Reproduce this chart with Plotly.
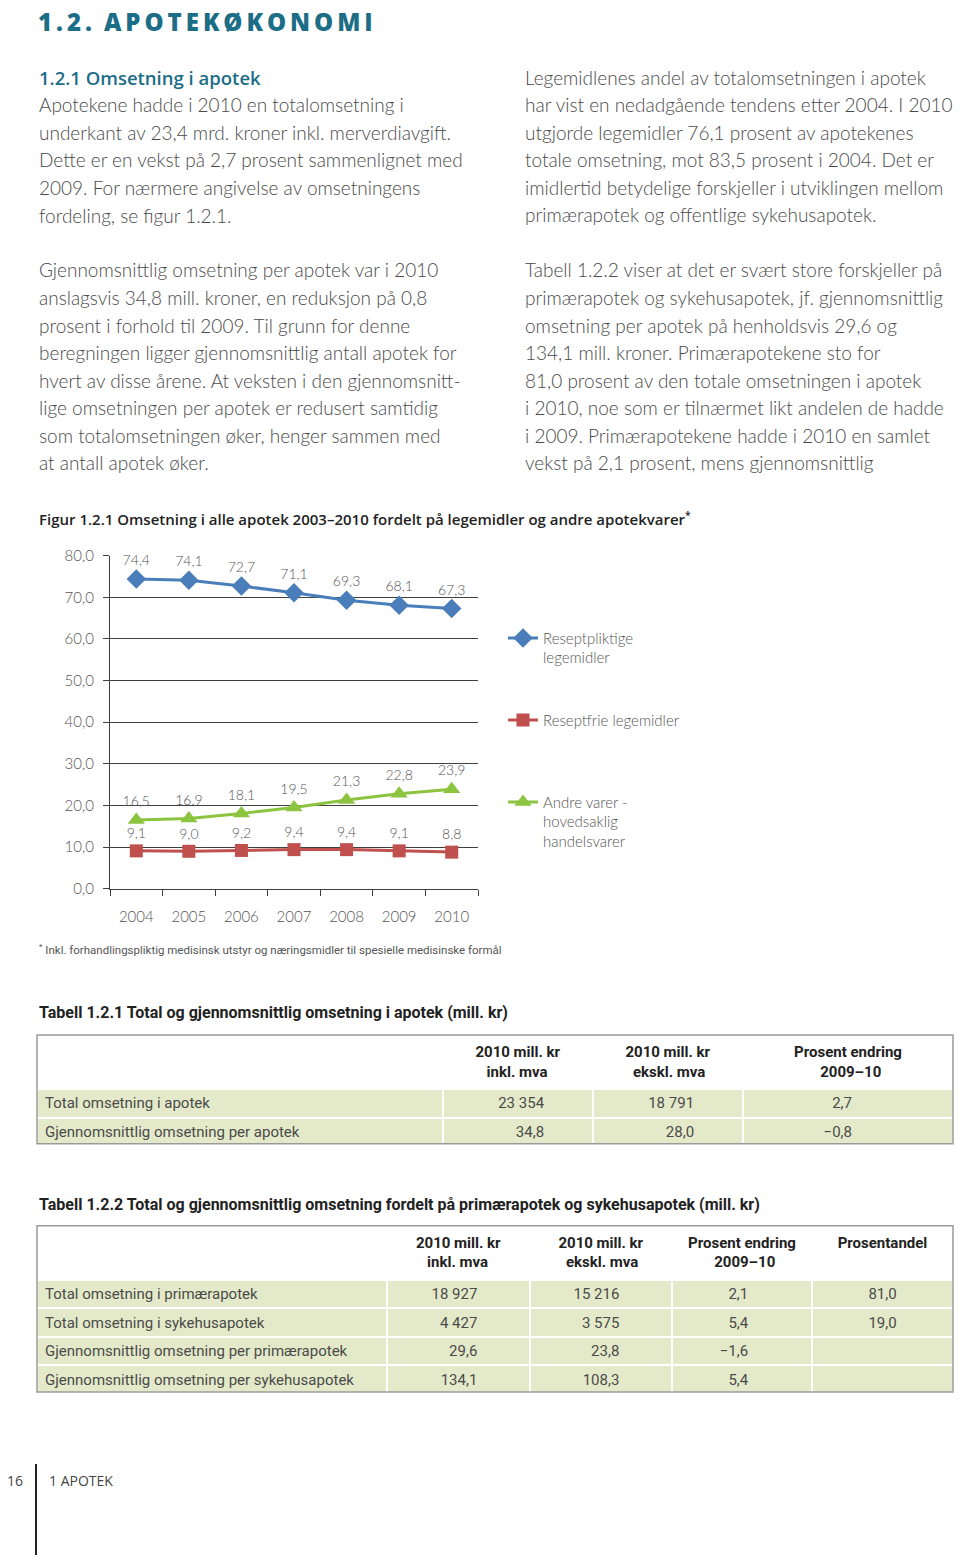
import plotly.graph_objects as go

W, H = 960, 1563

def py(p):
    return 1 - p / H

def px(p):
    return p / W

NB = "\u00a0"

# ---------------- data ----------------
years = ["2004", "2005", "2006", "2007", "2008", "2009", "2010"]
reseptpliktige = [74.4, 74.1, 72.7, 71.1, 69.3, 68.1, 67.3]
reseptfrie = [9.1, 9.0, 9.2, 9.4, 9.4, 9.1, 8.8]
andre_varer = [16.5, 16.9, 18.1, 19.5, 21.3, 22.8, 23.9]
series_names = ["Reseptpliktige<br>legemidler", "Reseptfrie legemidler<br> ",
                "Andre varer -<br>hovedsaklig<br>handelsvarer"]
y_ticks = [0, 10, 20, 30, 40, 50, 60, 70, 80]

tab1_header = ["", "<b>2010 mill. kr<br>" + NB * 3 + "inkl. mva</b>",
               "<b>2010 mill. kr<br>" + NB * 2 + "ekskl. mva</b>",
               "<b>Prosent endring<br>" + NB * 7 + "2009–10</b>"]
tab1_rows = ["Total omsetning i apotek", "Gjennomsnittlig omsetning per apotek"]
tab1_inkl = ["23\u00a0354", "34,8"]
tab1_ekskl = ["18\u00a0791", "28,0"]
tab1_endring = ["2,7", "−0,8"]

tab2_header = ["", "<b>2010 mill. kr<br>" + NB * 3 + "inkl. mva</b>",
               "<b>2010 mill. kr<br>" + NB * 2 + "ekskl. mva</b>",
               "<b>Prosent endring<br>" + NB * 7 + "2009–10</b>", "<b>Prosentandel</b>"]
tab2_rows = ["Total omsetning i primærapotek", "Total omsetning i sykehusapotek",
             "Gjennomsnittlig omsetning per primærapotek", "Gjennomsnittlig omsetning per sykehusapotek"]
tab2_inkl = ["18\u00a0927", "4\u00a0427", "29,6", "134,1"]
tab2_ekskl = ["15\u00a0216", "3\u00a0575", "23,8", "108,3"]
tab2_endring = ["2,1", "5,4", "−1,6", "5,4"]
tab2_andel = ["81,0", "19,0", "", ""]

left_para1 = ["Apotekene hadde i 2010 en totalomsetning i",
              "underkant av 23,4 mrd. kroner inkl. merverdiavgift.",
              "Dette er en vekst på 2,7 prosent sammenlignet med",
              "2009. For nærmere angivelse av omsetningens",
              "fordeling, se figur 1.2.1."]
left_para2 = ["Gjennomsnittlig omsetning per apotek var i 2010",
              "anslagsvis 34,8 mill. kroner, en reduksjon på 0,8",
              "prosent i forhold til 2009. Til grunn for denne",
              "beregningen ligger gjennomsnittlig antall apotek for",
              "hvert av disse årene. At veksten i den gjennomsnitt-",
              "lige omsetningen per apotek er redusert samtidig",
              "som totalomsetningen øker, henger sammen med",
              "at antall apotek øker."]
right_para1 = ["Legemidlenes andel av totalomsetningen i apotek",
               "har vist en nedadgående tendens etter 2004. I 2010",
               "utgjorde legemidler 76,1 prosent av apotekenes",
               "totale omsetning, mot 83,5 prosent i 2004. Det er",
               "imidlertid betydelige forskjeller i utviklingen mellom",
               "primærapotek og offentlige sykehusapotek."]
right_para2 = ["Tabell 1.2.2 viser at det er svært store forskjeller på",
               "primærapotek og sykehusapotek, jf. gjennomsnittlig",
               "omsetning per apotek på henholdsvis 29,6 og",
               "134,1 mill. kroner. Primærapotekene sto for",
               "81,0 prosent av den totale omsetningen i apotek",
               "i 2010, noe som er tilnærmet likt andelen de hadde",
               "i 2009. Primærapotekene hadde i 2010 en samlet",
               "vekst på 2,1 prosent, mens gjennomsnittlig"]

# ---------------- styles ----------------
TEAL = "#1c6d86"
TEXT = "#4a4a4a"
BODY_FONT = "Lato"
NARROW = "Liberation Sans Narrow, Roboto, sans-serif"
BLUE, RED, GREEN = "#4a7ebb", "#c0504d", "#8cc43f"
GRID = "#404040"
FILL = "#e4eac9"

fig = go.Figure()

for name, vals, col, sym, sz in [
    (series_names[0], reseptpliktige, BLUE, "diamond", 15),
    (series_names[1], reseptfrie, RED, "square", 13),
    (series_names[2], andre_varer, GREEN, "triangle-up", 15),
]:
    fig.add_trace(go.Scatter(
        x=years, y=vals, name=name, legendgroup=name,
        mode="lines+markers+text",
        line=dict(color=col, width=3),
        marker=dict(symbol=sym, size=sz, color=col),
        texttemplate="%{y:.1f}", textposition="top center",
        textfont=dict(family=BODY_FONT, size=14, color="#555555", weight=300),
        cliponaxis=False,
    ))

fig.update_xaxes(
    domain=[px(110), px(478)], type="category", range=[-0.5, 6.5],
    showline=True, linecolor=GRID, linewidth=1,
    ticks="outside", tickson="boundaries", ticklen=6, tickcolor=GRID,
    tickfont=dict(family=BODY_FONT, size=15, color="#555555", weight=300),
    ticklabelstandoff=14, showgrid=False, zeroline=False, fixedrange=True,
)
fig.update_yaxes(
    domain=[py(889), py(552)], range=[0, 80],
    tickvals=y_ticks, tickformat=".1f",
    showline=True, linecolor=GRID, linewidth=1,
    showgrid=True, gridcolor=GRID, gridwidth=1,
    ticks="outside", ticklen=6, tickcolor=GRID,
    tickfont=dict(family=BODY_FONT, size=15, color="#555555", weight=300),
    ticklabelstandoff=6, zeroline=False, fixedrange=True,
)

# ---------------- tables ----------------
fig.add_trace(go.Table(
    domain=dict(x=[px(37), px(953)], y=[py(1147), py(1037)]),
    columnwidth=[406, 150, 150, 210],
    header=dict(values=tab1_header, height=53, fill_color="white",
                line=dict(color="white", width=1),
                align=["left", "center", "center", "center"],
                font=dict(family=NARROW, size=15, color="#222222")),
    cells=dict(values=[tab1_rows, tab1_inkl, tab1_ekskl, tab1_endring], height=29,
               fill_color=FILL, line=dict(color="white", width=2),
               align=["left", "right", "right", "right"],
               suffix=["", NB * 11, NB * 11, NB * 25],
               font=dict(family=NARROW, size=15, color="#4a4a4a")),
))
fig.add_trace(go.Table(
    domain=dict(x=[px(37), px(953)], y=[py(1398), py(1230)]),
    columnwidth=[350, 143, 142, 140, 141],
    header=dict(values=tab2_header, height=54, fill_color="white",
                line=dict(color="white", width=1),
                align=["left", "center", "center", "center", "center"],
                font=dict(family=NARROW, size=15, color="#222222")),
    cells=dict(values=[tab2_rows, tab2_inkl, tab2_ekskl, tab2_endring, tab2_andel], height=28.5,
               fill_color=FILL, line=dict(color="white", width=2),
               align=["left", "right", "right", "right", "right"],
               suffix=["", NB * 12, NB * 12, NB * 15, NB * 13],
               font=dict(family=NARROW, size=15, color="#4a4a4a")),
))

shapes = [
    dict(type="rect", xref="paper", yref="paper", x0=px(37), x1=px(953), y0=py(1147), y1=py(1037),
         line=dict(color="#9a9a9a", width=1.5)),
    dict(type="rect", xref="paper", yref="paper", x0=px(37), x1=px(953), y0=py(1398), y1=py(1230),
         line=dict(color="#9a9a9a", width=1.5)),
    dict(type="line", xref="paper", yref="paper", x0=px(36), x1=px(36), y0=py(1471), y1=0,
         line=dict(color="#222222", width=2)),
]

ann = []

def text(x, y, s, size=19, color=TEXT, family=BODY_FONT, weight=300, anchor="left"):
    f = dict(family=family, size=size, color=color)
    if weight:
        f["weight"] = weight
    ann.append(dict(x=px(x), y=py(y), xref="paper", yref="paper", text=s, showarrow=False,
                    xanchor=anchor, yanchor="middle", font=f))

# title
text(36, 12, "1 . 2 .   A P O T E K Ø K O N O M I".replace(" ", "\u2009"), size=24, color=TEAL,
     family="Open Sans", weight=800)
text(37, 68, "1.2.1 Omsetning i apotek", size=18.5, color=TEAL, family="Open Sans", weight=600)

step = 27.86
for i, s in enumerate(left_para1):
    text(37, 96 + i * step, s)
for i, s in enumerate(left_para2):
    text(37, 263 + i * step, s)
for i, s in enumerate(right_para1):
    text(523, 68 + i * step, s)
for i, s in enumerate(right_para2):
    text(523, 263 + i * step, s)

text(37, 514, "Figur 1.2.1 Omsetning i alle apotek 2003–2010 fordelt på legemidler og andre apotekvarer<sup>*</sup>",
     size=15, color="#222222", family="Open Sans", weight=600)
text(37, 950, "<sup>*</sup> Inkl. forhandlingspliktig medisinsk utstyr og næringsmidler til spesielle medisinske formål",
     size=11.5, color="#555555", family=NARROW, weight=None)
text(37, 1014, "<b>Tabell 1.2.1 Total og gjennomsnittlig omsetning i apotek (mill. kr)</b>",
     size=16, color="#222222", family=NARROW, weight=None)
text(37, 1208, "<b>Tabell 1.2.2 Total og gjennomsnittlig omsetning fordelt på primærapotek og sykehusapotek (mill. kr)</b>",
     size=16, color="#222222", family=NARROW, weight=None)
text(5, 1488, "16", size=14, color="#444444", family="Open Sans", weight=None)
text(47, 1488, "1 APOTEK", size=14, color="#444444", family="Open Sans", weight=None)

fig.update_layout(
    width=W, height=H, margin=dict(l=0, r=0, t=0, b=0),
    paper_bgcolor="white", plot_bgcolor="white",
    separators=", ",
    shapes=shapes, annotations=ann,
    showlegend=True,
    legend=dict(x=px(503), y=py(619), xanchor="left", yanchor="top",
                tracegroupgap=40, valign="top",
                font=dict(family=BODY_FONT, size=15, color="#555555", weight=300),
                bgcolor="rgba(0,0,0,0)"),
)

POST = ("document.body.style.margin='0';document.body.style.overflow='hidden';"
        "var d=document.getElementsByClassName('plotly-graph-div')[0];"
        "d.style.position='fixed';d.style.top='0px';d.style.left='0px';")

fig.write_html("out.html", config={"displayModeBar": False}, post_script=POST)
